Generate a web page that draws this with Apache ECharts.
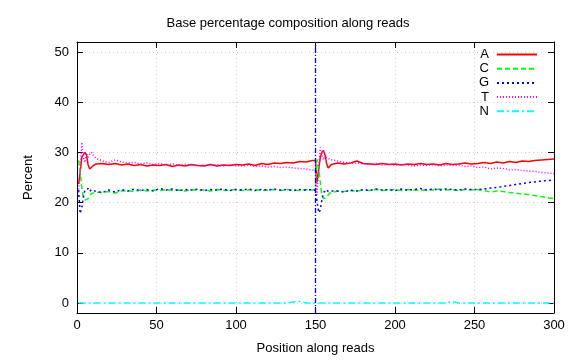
<!DOCTYPE html>
<html>
<head>
<meta charset="utf-8">
<script src="https://cdn.jsdelivr.net/npm/echarts@6/dist/echarts.min.js"></script>
<style>html,body{margin:0;padding:0;background:#fff}#c{width:576px;height:360px}</style>
</head>
<body>
<div id="c"></div>
<script>
// Read positions
const pos = [1,2,3,4,5,6,7,8,9,10,
  12,16,20,24,28,32,36,40,44,48,52,56,60,64,68,72,76,80,84,88,92,96,100,104,108,112,116,120,124,128,132,136,140,144,148,
  150,
  151,152,153,154,155,156,157,158,159,160,
  164,168,172,176,180,184,188,192,196,200,204,208,212,216,220,224,228,232,236,240,244,248,252,256,260,264,268,272,276,280,284,288,292,296,
  300];
// Base percentages
const baseA = [23.7,26.0,29.0,29.5,30.0,29.5,27.5,26.7,26.9,27.3,
  27.7,27.8,27.6,27.8,27.5,27.7,27.4,27.6,27.3,27.5,27.4,27.6,27.2,27.5,27.3,27.6,27.4,27.3,27.6,27.3,27.5,27.4,27.6,27.5,27.7,27.4,27.8,27.6,27.9,27.8,28.0,27.9,28.2,28.1,28.4,
  28.4,
  24.0,26.5,29.0,30.0,30.4,29.5,27.8,26.9,27.2,27.6,
  27.9,27.7,27.9,28.3,27.8,27.7,27.6,27.8,27.6,27.7,27.5,27.7,27.6,27.8,27.6,27.7,27.5,27.8,27.6,27.7,27.9,27.7,27.8,28.0,27.8,28.1,27.9,28.2,28.0,28.3,28.2,28.4,28.5,28.6,
  28.7];
const baseC = [28.4,26.0,23.0,21.0,20.5,20.2,20.8,21.3,21.8,22.0,
  22.1,22.0,22.2,21.9,22.3,22.4,22.2,22.5,22.3,22.5,22.4,22.6,22.4,22.5,22.3,22.6,22.4,22.5,22.3,22.6,22.4,22.5,22.6,22.4,22.5,22.6,22.4,22.5,22.6,22.4,22.6,22.5,22.4,22.6,22.5,
  22.6,
  28.6,27.0,24.0,21.5,20.8,20.6,21.0,21.5,21.9,22.1,
  22.3,22.2,22.4,22.3,22.5,22.4,22.6,22.4,22.5,22.6,22.4,22.6,22.5,22.4,22.6,22.5,22.7,22.5,22.6,22.4,22.6,22.5,22.6,22.4,22.1,22.3,22.2,22.0,21.9,21.7,21.6,21.4,21.2,21.0,
  20.8];
const baseG = [22.5,17.8,19.0,21.0,22.5,22.3,22.8,22.2,22.6,22.3,
  22.2,22.0,22.5,22.1,22.6,22.3,22.7,22.4,22.6,22.3,22.8,22.5,22.7,22.4,22.6,22.5,22.7,22.4,22.6,22.5,22.7,22.4,22.6,22.5,22.7,22.4,22.6,22.5,22.7,22.5,22.6,22.4,22.6,22.5,22.6,
  22.4,
  22.5,18.0,18.5,20.5,22.0,22.3,22.6,22.2,22.5,22.3,
  22.3,22.1,22.5,22.3,22.6,22.4,22.7,22.5,22.6,22.4,22.7,22.5,22.6,22.8,22.5,22.7,22.5,22.7,22.6,22.5,22.7,22.6,22.6,22.7,22.9,23.0,23.2,23.4,23.6,23.8,24.0,24.1,24.3,24.4,
  24.5];
const baseT = [22.0,27.0,32.0,29.0,28.0,29.8,29.0,29.6,30.0,29.5,
  28.8,28.3,28.0,28.5,28.1,27.9,28.0,27.7,27.9,27.6,27.8,27.5,27.7,27.4,27.6,27.5,27.3,27.5,27.4,27.6,27.3,27.5,27.4,27.3,27.5,27.2,27.3,27.1,27.2,27.0,27.1,26.9,26.8,26.7,26.5,
  26.4,
  21.5,27.0,31.0,29.5,28.5,29.5,29.0,28.8,28.6,28.5,
  28.3,28.0,27.8,27.9,27.7,27.6,27.8,27.5,27.7,27.4,27.6,27.5,27.3,27.5,27.4,27.6,27.3,27.5,27.4,27.5,27.2,27.3,27.0,27.1,26.7,26.9,26.8,26.5,26.6,26.4,26.3,26.2,26.0,25.9,
  25.8];
const baseN = [
  0, 0, 0, 0, 0,   0, 0, 0, 0, 0,
  0, 0, 0, 0, 0,   0, 0, 0, 0, 0,
  0, 0, 0, 0, 0,   0, 0, 0, 0, 0,
  0, 0, 0, 0, 0,   0, 0, 0, 0, 0,
  0, 0.2, 0.3, 0, 0,
  0,
  0, 0, 0, 0, 0,   0, 0, 0, 0, 0,
  0, 0, 0, 0, 0,   0, 0, 0, 0, 0,
  0, 0, 0, 0, 0,   0, 0, 0, 0.3, 0,
  0, 0, 0, 0, 0,   0, 0, 0, 0, 0,
  0, 0, 0, 0,
  0];
const legendNames = ['A','C','G','T','N'];
const yTicks = [0,10,20,30,40,50];
const splitPos = 150;

const FONT = 'Liberation Sans, Arial, sans-serif';
const colors = ['#ff0000','#00ff00','#0000ff','#ff00ff','#00ffff'];
const dashes = ['solid',[5,3],[2,3],[1,2],[7,3,2,3]];
const seriesData = [baseA, baseC, baseG, baseT, baseN];

const chart = echarts.init(document.getElementById('c'), null, {renderer:'canvas'});
const gridLine = {show:true, lineStyle:{color:'#d0d0d0', type:[1,3], width:1}};
const series = legendNames.map((n,i) => ({
  name:n, type:'line', xAxisIndex:0, yAxisIndex:0,
  data: pos.map((p,j)=>[p, seriesData[i][j]]),
  symbol:'none', showSymbol:false, animation:false,
  lineStyle:{color:colors[i], width:1.5, type:dashes[i]},
  itemStyle:{color:colors[i]}
}));
series[2].markLine = {
  silent:true, symbol:['none','none'], animation:false,
  label:{show:false},
  lineStyle:{color:'#0000ff', width:1.3, type:[5,2,1,2]},
  data:[{xAxis:splitPos}]
};
const option = {
  animation:false,
  backgroundColor:'#ffffff',
  textStyle:{fontFamily:FONT},
  title:{text:'Base percentage composition along reads', left:'center', top:12,
    textStyle:{fontSize:13, fontWeight:'normal', color:'#000', fontFamily:FONT}},
  legend:{data:legendNames, orient:'vertical', align:'right', right:38, top:48, padding:0,
    itemWidth:40, itemHeight:14, itemGap:1.2,
    itemStyle:{opacity:0},
    textStyle:{fontSize:13, color:'#000', fontFamily:FONT, padding:[0,3,0,0]}},
  grid:{left:77, right:22, top:42, bottom:46, show:false},
  xAxis:[
    {type:'value', min:0, max:300, interval:50, position:'bottom',
     name:'Position along reads', nameLocation:'middle', nameGap:29,
     nameTextStyle:{fontSize:13, color:'#000', fontFamily:FONT},
     axisLine:{show:true, onZero:false, lineStyle:{color:'#000', width:1}},
     axisTick:{show:true, inside:true, length:6, lineStyle:{color:'#000'}},
     axisLabel:{fontSize:13, color:'#000', margin:6, fontFamily:FONT},
     splitLine:gridLine},
    {type:'value', min:0, max:300, interval:50, position:'top',
     axisLine:{show:true, onZero:false, lineStyle:{color:'#000', width:1}},
     axisTick:{show:true, inside:true, length:6, lineStyle:{color:'#000'}},
     axisLabel:{show:false}, splitLine:{show:false}}
  ],
  yAxis:[
    {type:'value', min:-2, max:52, position:'left',
     name:'Percent', nameLocation:'middle', nameGap:42,
     nameTextStyle:{fontSize:13, color:'#000', fontFamily:FONT},
     axisLine:{show:true, onZero:false, lineStyle:{color:'#000', width:1}},
     axisTick:{show:true, inside:true, length:6, customValues:yTicks, lineStyle:{color:'#000'}},
     axisLabel:{fontSize:13, color:'#000', margin:8, customValues:yTicks, fontFamily:FONT},
     splitLine:gridLine},
    {type:'value', min:-2, max:52, position:'right',
     axisLine:{show:true, onZero:false, lineStyle:{color:'#000', width:1}},
     axisTick:{show:true, inside:true, length:6, customValues:yTicks, lineStyle:{color:'#000'}},
     axisLabel:{show:false, customValues:yTicks}, splitLine:{show:false}}
  ],
  series: series
};
chart.setOption(option);
</script>
</body>
</html>
